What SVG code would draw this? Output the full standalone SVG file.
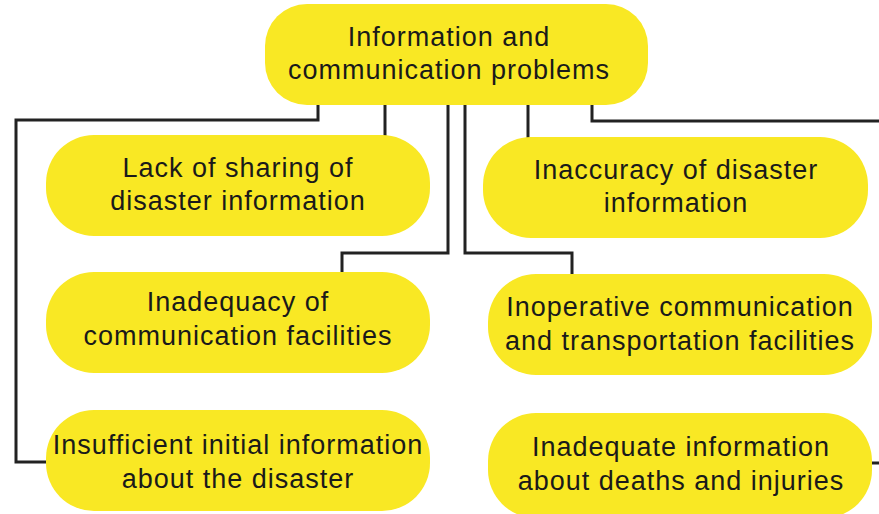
<svg xmlns="http://www.w3.org/2000/svg" width="879" height="514" viewBox="0 0 879 514">
<style>
.box{fill:#F9E824;}
.t{font-family:"Liberation Sans",Arial,sans-serif;font-size:27px;letter-spacing:1px;fill:#1a1a1a;text-anchor:middle;}
.c{fill:none;stroke:#222;stroke-width:3;}
</style>
<rect width="879" height="514" fill="#fff"/>
<g id="connectors">
<polyline class="c" points="318,104 318,120 16,120 16,462 48,462"/>
<polyline class="c" points="385,104 385,137"/>
<polyline class="c" points="448,104 448,253 342,253 342,273"/>
<polyline class="c" points="465,104 465,253 572,253 572,275"/>
<polyline class="c" points="528,104 528,138"/>
<polyline class="c" points="592,104 592,121 881,121"/>
<polyline class="c" points="871,463 881,463"/>
</g>
<g id="n0">
<rect class="box" x="265" y="4" width="383" height="101" rx="42"/>
<text class="t" x="449" y="46">Information and</text>
<text class="t" x="449" y="79">communication problems</text>
</g>
<g id="n1">
<rect class="box" x="46" y="135" width="384" height="101" rx="48"/>
<text class="t" x="238" y="177">Lack of sharing of</text>
<text class="t" x="238" y="210">disaster information</text>
</g>
<g id="n2">
<rect class="box" x="483" y="137" width="385" height="101" rx="48"/>
<text class="t" x="676" y="179">Inaccuracy of disaster</text>
<text class="t" x="676" y="212">information</text>
</g>
<g id="n3">
<rect class="box" x="46" y="272" width="384" height="101" rx="48"/>
<text class="t" x="238" y="311">Inadequacy of</text>
<text class="t" x="238" y="345">communication facilities</text>
</g>
<g id="n4">
<rect class="box" x="488" y="274" width="384" height="101" rx="48"/>
<text class="t" x="680" y="316">Inoperative communication</text>
<text class="t" x="680" y="350">and transportation facilities</text>
</g>
<g id="n5">
<rect class="box" x="46" y="410" width="384" height="101" rx="48"/>
<text class="t" x="238" y="454">Insufficient initial information</text>
<text class="t" x="238" y="488">about the disaster</text>
</g>
<g id="n6">
<rect class="box" x="488" y="413" width="384" height="105" rx="48"/>
<text class="t" x="681" y="456">Inadequate information</text>
<text class="t" x="681" y="490">about deaths and injuries</text>
</g>
</svg>
